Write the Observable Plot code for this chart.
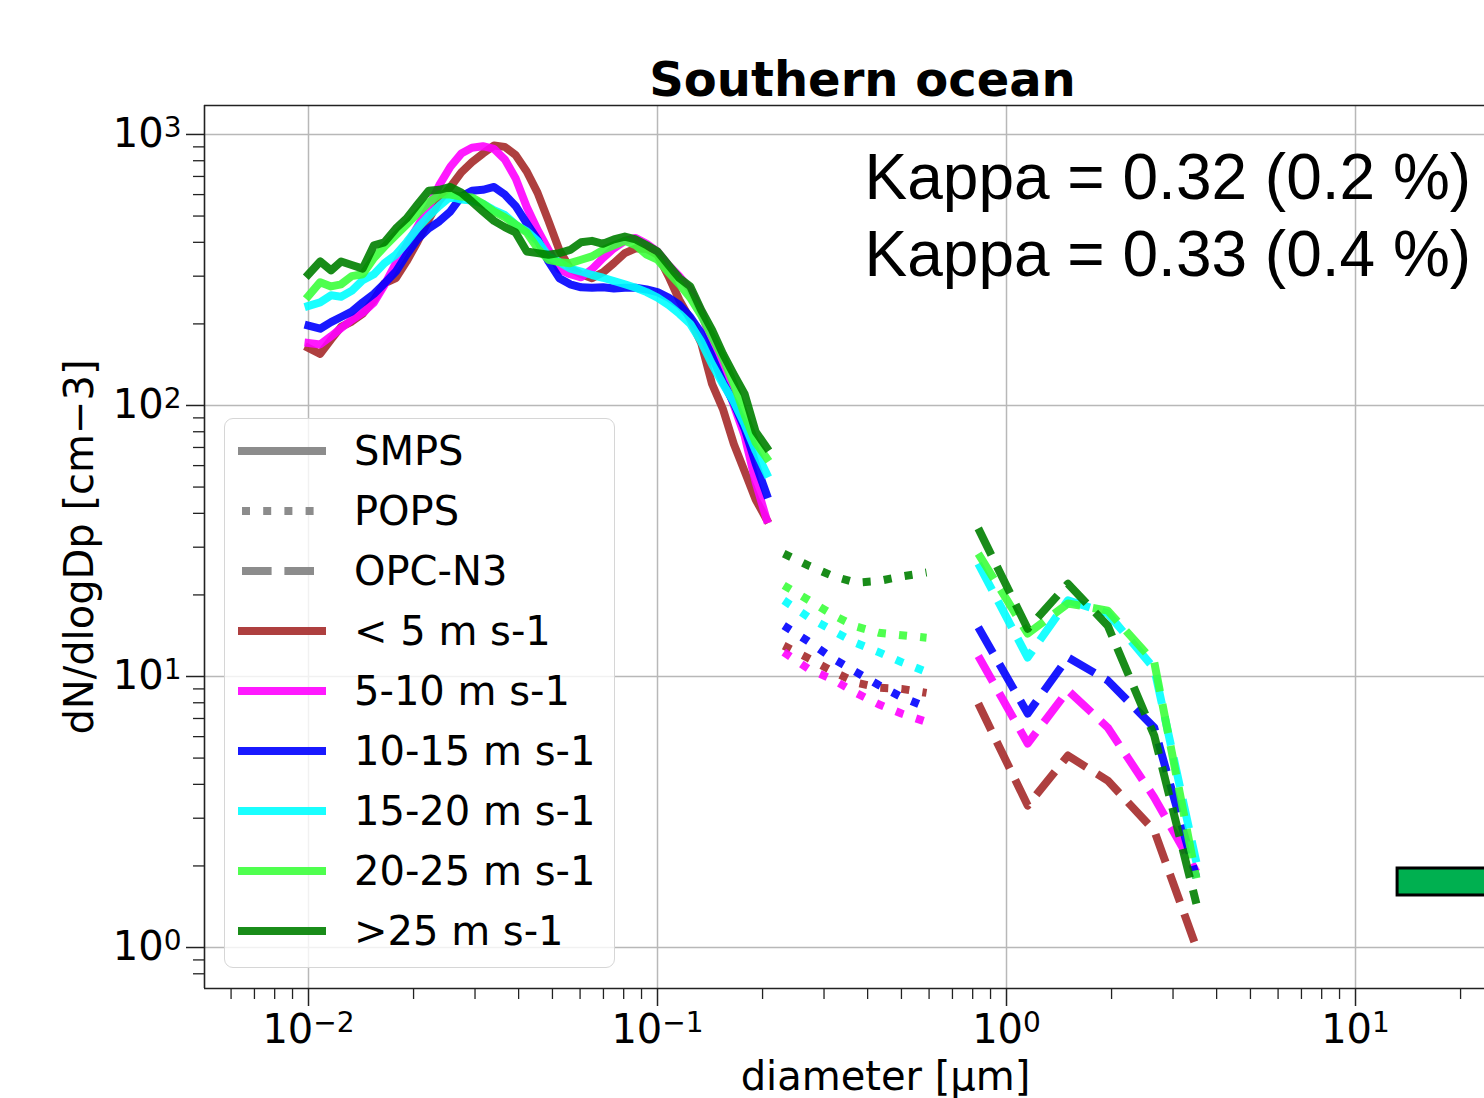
<!DOCTYPE html>
<html>
<head>
<meta charset="utf-8">
<script src="https://cdn.jsdelivr.net/npm/d3@7"></script>
<script src="https://cdn.jsdelivr.net/npm/@observablehq/plot@0.6"></script>
<style>
html,body{margin:0;padding:0;background:#fff;overflow:hidden;}
#wrap{position:relative;width:1484px;height:1098px;}
#legend{position:absolute;left:224px;top:418px;width:391px;height:550px;border:1.5px solid #d6d6d6;border-radius:9px;background:rgba(255,255,255,0.8);box-sizing:border-box;font-family:"DejaVu Sans",sans-serif;}
.row{position:absolute;left:0;height:60px;}
.row svg{position:absolute;left:0;top:0;}
.row span{position:absolute;left:129px;font-size:40px;line-height:60px;top:0;white-space:pre;color:#000;}
</style>
</head>
<body>
<div id="wrap"><div id="legend"></div></div>
<script>
// ---------- data ----------
const categories = ["< 5 m s-1", "5-10 m s-1", "10-15 m s-1", "15-20 m s-1", "20-25 m s-1", ">25 m s-1"];
const colors = ["#a52a2a", "#ff00ff", "#0000ff", "#00ffff", "#3cff3c", "#008000"];
const instruments = ["SMPS", "POPS", "OPC-N3"];

// SMPS diameters [um]
const smpsD = [0.0100, 0.0108, 0.0116, 0.0124, 0.0133, 0.0143, 0.0154, 0.0165, 0.0178, 0.0191, 0.0205, 0.0221, 0.0237, 0.0255, 0.0274, 0.0294, 0.0316, 0.0340, 0.0365, 0.0392, 0.0422, 0.0453, 0.0487, 0.0523, 0.0562, 0.0604, 0.0649, 0.0698, 0.0750, 0.0806, 0.0866, 0.0931, 0.1000, 0.1075, 0.1155, 0.1241, 0.1334, 0.1433, 0.1540, 0.1655, 0.1778, 0.1911, 0.2054];
const smpsLt5   = [163,155,175,195,204,218,245,282,295,340,400,485,570,640,725,790,850,910,900,840,730,610,480,375,320,305,295,310,335,365,380,378,360,300,245,208,170,120,97,72,57,45,38];
const smps5to10 = [170,168,180,193,207,220,240,278,335,390,455,540,650,760,850,893,905,885,810,690,540,445,375,318,305,297,318,350,380,405,415,395,370,330,300,268,222,168,130,100,77,52,38];
const smps10to15 = [197,192,203,212,222,240,258,282,312,360,410,450,478,520,590,620,625,640,600,545,470,410,340,295,280,273,272,273,270,272,272,268,262,250,235,212,185,152,122,102,82,61,47];
const smps15to20 = [233,240,255,252,265,290,305,335,360,400,450,500,545,590,575,570,555,525,505,465,440,405,355,338,320,312,303,296,288,280,272,262,250,235,218,200,172,142,120,103,85,68,56];
const smps20to25 = [254,285,275,280,300,305,350,385,425,465,510,560,600,600,590,585,555,520,495,465,435,380,345,338,335,345,355,375,390,405,390,360,345,310,280,250,215,180,150,120,92,73,64];
const smpsGt25  = [305,340,315,340,330,320,390,400,450,490,550,620,625,640,610,565,520,480,455,435,370,365,360,365,375,400,405,395,410,420,410,390,370,330,295,275,225,190,155,130,110,80,70];

// POPS diameters [um]
const popsD = [0.23, 0.27, 0.32, 0.37, 0.43, 0.50, 0.59];
const popsLt5    = [13.0, 11.7, 10.4, 9.5, 9.1, 9.0, 8.7];
const pops5to10  = [12.3, 10.7, 9.7, 8.7, 7.9, 7.3, 6.8];
const pops10to15 = [15.4, 13.5, 11.6, 10.4, 9.3, 8.4, 7.7];
const pops15to20 = [19.1, 16.6, 14.7, 13.3, 12.3, 11.3, 10.4];
const pops20to25 = [21.7, 19.2, 16.8, 15.3, 14.5, 14.2, 13.9];
const popsGt25   = [28.4, 25.7, 23.4, 22.2, 22.5, 23.4, 24.2];

// OPC-N3 diameters [um]
const opcD = [0.83, 1.15, 1.5, 1.95, 2.65, 3.5];
const opcLt5    = [7.95, 3.34, 5.11, 4.13, 2.70, 1.0];
const opc5to10  = [11.9, 5.66, 8.88, 6.48, 3.58, 1.9];
const opc10to15 = [15.2, 7.3, 11.75, 9.67, 6.48, 1.81];
const opc15to20 = [26.1, 11.75, 19.1, 17.1, 10.7, 2.06];
const opc20to25 = [28.4, 14.4, 18.6, 17.5, 11.3, 1.8];
const opcGt25   = [35.2, 15.0, 22.0, 15.4, 6.06, 1.45];

// green box annotation (x in um, y in cm-3)
const boxX1 = [13.2], boxX2 = [40], boxY1 = [1.556], boxY2 = [1.957];

// axes
const xDomain = [0.005035, 23.42];
const yDomain = [0.706, 1279];
const xMajor = [0.01, 0.1, 1, 10];
const xMinor = [0.006,0.007,0.008,0.009,0.02,0.03,0.04,0.05,0.06,0.07,0.08,0.09,0.2,0.3,0.4,0.5,0.6,0.7,0.8,0.9,2,3,4,5,6,7,8,9,20];
const yMajor = [1, 10, 100, 1000];
const yMinor = [0.8,0.9,2,3,4,5,6,7,8,9,20,30,40,50,60,70,80,90,200,300,400,500,600,700,800,900];
const title = "Southern ocean";
const xLabel = "diameter [μm]";
const yLabel = "dN/dlogDp [cm−3]";
const kappaLines = ["Kappa = 0.32 (0.2 %)", "Kappa = 0.33 (0.4 %)"];

// ---------- build ----------
const smpsSets = [smpsLt5, smps5to10, smps10to15, smps15to20, smps20to25, smpsGt25];
const popsSets = [popsLt5, pops5to10, pops10to15, pops15to20, pops20to25, popsGt25];
const opcSets = [opcLt5, opc5to10, opc10to15, opc15to20, opc20to25, opcGt25];
const tidy = (D, sets) => sets.flatMap((vals, i) => vals.map((v, j) => ({d: D[j], v, cat: categories[i]})));
const smpsData = tidy(smpsD, smpsSets);
const popsData = tidy(popsD, popsSets);
const opcData = tidy(opcD, opcSets);
const boxes = boxX1.map((x1, i) => ({x1, x2: boxX2[i], y1: boxY1[i], y2: boxY2[i]}));

// tick label: "10^e" (superscript rendered afterwards)
const fmt = (v) => "10^" + String(Math.round(Math.log10(v))).replace("-", "−");

const lw = 8;
const common = {x: "d", y: "v", z: "cat", stroke: "cat", strokeWidth: lw, strokeOpacity: 0.9, strokeLinejoin: "round"};

const chart = Plot.plot({
  width: 1484, height: 1098,
  marginLeft: 204, marginRight: 0, marginTop: 105, marginBottom: 110,
  style: {fontFamily: "DejaVu Sans", background: "white", color: "black", overflow: "hidden"},
  x: {type: "log", domain: xDomain},
  y: {type: "log", domain: yDomain},
  color: {domain: categories, range: colors},
  marks: [
    Plot.gridX(xMajor, {stroke: "#b8b8b8", strokeOpacity: 1, strokeWidth: 1.5}),
    Plot.gridY(yMajor, {stroke: "#b8b8b8", strokeOpacity: 1, strokeWidth: 1.5}),
    Plot.axisY(yMinor, {anchor: "left", tickSize: 11, text: null, stroke: "#222", strokeWidth: 1.3, label: null}),
    Plot.axisY(yMajor, {anchor: "left", tickSize: 18, tickPadding: 5, tickFormat: fmt, fontSize: 40, stroke: "#222", strokeWidth: 1.5, label: null}),
    Plot.axisX(xMinor, {anchor: "bottom", tickSize: 11, text: null, stroke: "#222", strokeWidth: 1.3, label: null}),
    Plot.axisX(xMajor, {anchor: "bottom", tickSize: 18, tickPadding: 8, tickFormat: fmt, fontSize: 40, stroke: "#222", strokeWidth: 1.5, label: null}),
    Plot.ruleY(yDomain, {stroke: "#222", strokeWidth: 1.6}),
    Plot.ruleX([xDomain[0]], {stroke: "#222", strokeWidth: 1.6}),
    Plot.rect(boxes, {x1: "x1", x2: "x2", y1: "y1", y2: "y2", fill: "#00b050", stroke: "black", strokeWidth: 3, clip: true}),
    Plot.line(smpsData, {...common, strokeLinecap: "square"}),
    Plot.line(popsData, {...common, strokeLinecap: "butt", strokeDasharray: `${lw} ${1.65 * lw}`}),
    Plot.line(opcData, {...common, strokeLinecap: "butt", strokeDasharray: `${3.7 * lw} ${1.6 * lw}`}),
    Plot.text([title], {frameAnchor: "top", lineAnchor: "top", dx: 18, dy: -44, fontSize: 48, fontWeight: "bold", fill: "black"}),
    Plot.text([kappaLines.join("\n")], {frameAnchor: "top-left", dx: 660, dy: 39, textAnchor: "start", lineAnchor: "top", lineHeight: 1.2, fontSize: 64, fontFamily: "Liberation Sans, Arial, sans-serif", fill: "black"}),
    Plot.text([xLabel], {frameAnchor: "bottom", lineAnchor: "bottom", dx: 41, dy: 101, fontSize: 40, fill: "black"}),
    Plot.text([yLabel], {frameAnchor: "left", textAnchor: "middle", lineAnchor: "middle", dx: -124, rotate: -90, fontSize: 40, fill: "black"})
  ]
});
document.getElementById("wrap").prepend(chart);

// render tick exponents as raised, smaller text (like mathtext)
d3.select(chart).selectAll("text").each(function() {
  const t = this.textContent;
  const m = /^10\^(.+)$/.exec(t);
  if (!m) return;
  const sel = d3.select(this);
  sel.text("10");
  sel.append("tspan").attr("dy", "-0.38em").attr("font-size", "0.7em").text(m[1]);
});

// ---------- legend ----------
const legendEntries = [
  ...instruments.map((name, i) => ({label: name, color: "#808080", style: i})),
  ...categories.map((c, i) => ({label: c, color: colors[i], style: 0}))
];
const legend = document.getElementById("legend");
legendEntries.forEach((e, i) => {
  const row = document.createElement("div");
  row.className = "row";
  row.style.top = (2 + 60 * i) + "px";
  row.style.width = "100%";
  const dash = e.style === 1 ? `${lw} ${1.65 * lw}` : e.style === 2 ? `${3.7 * lw} ${1.6 * lw}` : "none";
  const cap = e.style === 0 ? "square" : "butt";
  row.innerHTML = `<svg width="120" height="60"><line x1="17" x2="97" y1="30" y2="30" stroke="${e.color}" stroke-opacity="0.9" stroke-width="${lw}" stroke-dasharray="${dash}" stroke-linecap="${cap}"/></svg><span>${e.label.replace("<", "&lt;").replace(">", "&gt;")}</span>`;
  legend.appendChild(row);
});
</script>
</body>
</html>
